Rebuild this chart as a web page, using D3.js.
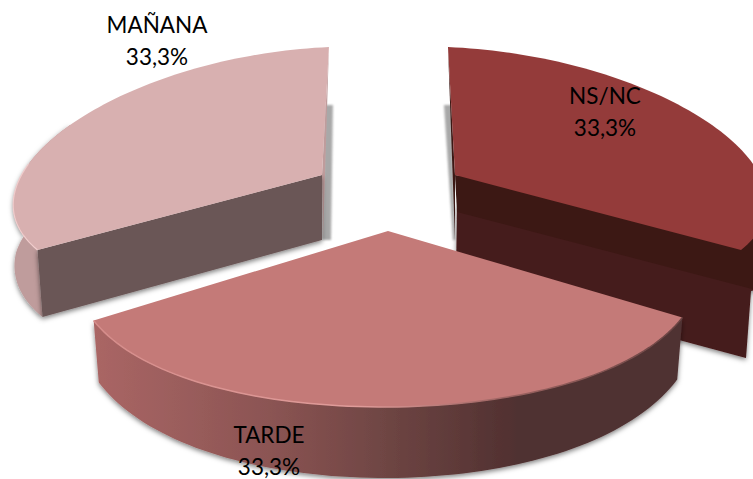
<!DOCTYPE html>
<html>
<head>
<meta charset="utf-8">
<script src="https://cdn.jsdelivr.net/npm/d3@7"></script>
<style>
  html, body { margin: 0; padding: 0; background: #fff; overflow: hidden; }
  svg { display: block; }
  text { font-family: Lato, "Open Sans", sans-serif; font-size: 22.5px; fill: #000; text-anchor: middle; }
</style>
</head>
<body>
<div class="plot"></div>
<script>
// DATA
var categories = ["NS/NC", "TARDE", "MAÑANA"];
var values = [33.3, 33.3, 33.3];

// LAYOUT
var w = 753;
var h = 479;
var faceColors = ["#943b3a", "#c47a78", "#d8b0b0"];

// per slice projection of the flat pie onto the page
var views = [
  { ax: 455, ay: 175, A: 310, B: 7.7, C: 12.7, D: 128, p: 0.0956 },
  { ax: 388, ay: 231, A: 310, B: 0, C: -1.7, D: 176, p: 0.176 },
  { ax: 322, ay: 175, A: 306, B: -7.7, C: -12.7, D: 128, p: 0.11 }
];
var drops = [
  { base: 65, front: 4 },
  { base: 53, front: 18 },
  { base: 65, front: 4 }
];
var labelSpots = [
  { x: 605, y: 104 },
  { x: 269, y: 442.5 },
  { x: 157, y: 33 }
];

function project(view, a) {
  var u = Math.sin(a), v = -Math.cos(a);
  return [
    view.ax + (view.A * u + view.B * v) / (1 - view.p * v),
    view.ay + view.C * u + view.D * v
  ];
}

function dropped(view, drop, a) {
  var pt = project(view, a), v = Math.max(0, -Math.cos(a));
  return [
    view.ax + (pt[0] - view.ax) * (1 - 0.035 * v),
    pt[1] + drop.base + drop.front * v
  ];
}

function anglesOf(d) {
  return d3.range(0, 81).map(function (i) {
    return d.startAngle + (d.endAngle - d.startAngle) * i / 80;
  });
}

var pie = d3.pie().sort(null);
var slices = pie(values);

var svg = d3.select(".plot").append("svg").attr("width", w).attr("height", h);
var defs = svg.append("defs");

var shadow = defs.append("filter").attr("id", "shadow")
  .attr("x", "-10%").attr("y", "-10%").attr("width", "120%").attr("height", "125%");
shadow.append("feDropShadow").attr("dx", 0).attr("dy", 2).attr("stdDeviation", 2.5)
  .attr("flood-color", "#000").attr("flood-opacity", 0.5);

var soft = defs.append("filter").attr("id", "soft")
  .attr("x", "-100%").attr("y", "-10%").attr("width", "300%").attr("height", "120%");
soft.append("feGaussianBlur").attr("stdDeviation", 1);

var tardeRim = defs.append("linearGradient").attr("id", "tardeRim")
  .attr("gradientUnits", "userSpaceOnUse").attr("x1", 93).attr("x2", 682).attr("y1", 0).attr("y2", 0);
[[0, "#aa6665"], [0.3, "#8b5453"], [0.5, "#6e4543"], [0.72, "#503030"], [1, "#503132"]].forEach(function (s) {
  tardeRim.append("stop").attr("offset", s[0]).attr("stop-color", s[1]);
});
var tardeEdge = defs.append("linearGradient").attr("id", "tardeEdge")
  .attr("gradientUnits", "userSpaceOnUse").attr("x1", 93).attr("x2", 682).attr("y1", 0).attr("y2", 0);
[[0, "#d58c8a"], [0.45, "#e09c9a"], [0.7, "#9c6361"], [1, "#6b4443"]].forEach(function (s) {
  tardeEdge.append("stop").attr("offset", s[0]).attr("stop-color", s[1]);
});

var line = d3.line();
var polygon = function (pts) { return line(pts) + "Z"; };
function shift(pt, dx, dy) { return [pt[0] + dx, pt[1] + dy]; }

function drawFace(g, d, view, i) {
  g.append("path")
    .attr("d", polygon([[view.ax, view.ay]].concat(anglesOf(d).map(function (a) { return project(view, a); }))))
    .attr("fill", faceColors[i]);
}

// rim between the top edge and the dropped edge
function rimArea(angles, view, drop) {
  return d3.area()
    .x0(function (a) { return project(view, a)[0]; })
    .y0(function (a) { return project(view, a)[1]; })
    .x1(function (a) { return dropped(view, drop, a)[0]; })
    .y1(function (a) { return dropped(view, drop, a)[1]; })(angles);
}

function drawNs(d, view) {
  var g = svg.append("g");
  var apex = [view.ax, view.ay];
  var start = project(view, d.startAngle);
  var end = project(view, d.endAngle);
  g.append("path")
    .attr("d", polygon([shift(start, -4, 58), shift(start, 4, 58), shift(apex, 0, 65), shift(apex, -2, 65)]))
    .attr("fill", "#a8a8a8").attr("filter", "url(#soft)");
  g.append("path")
    .attr("d", polygon([start, apex, shift(apex, 0, 65)]))
    .attr("fill", "#3c1814");
  g.append("path")
    .attr("d", polygon([shift(apex, 2, 30), shift(end, 15, 33), shift(end, 15, 40), shift(end, 10, 41), shift(end, 5, 108), shift(apex, 1, 105)]))
    .attr("fill", "#451a1a").attr("filter", "url(#shadow)");
  g.append("path")
    .attr("d", polygon([apex, shift(end, 30, -30), shift(end, 15, 40), shift(apex, 2, 37)]))
    .attr("fill", "#3c1814");
  drawFace(g, d, view, 0);
}

function drawTarde(d, view, drop) {
  var g = svg.append("g");
  g.append("path").attr("d", rimArea(anglesOf(d), view, drop)).attr("fill", "url(#tardeRim)").attr("filter", "url(#shadow)");
  drawFace(g, d, view, 1);
  g.append("path")
    .attr("d", line(anglesOf(d).map(function (a) { return project(view, a); })))
    .attr("fill", "none").attr("stroke", "url(#tardeEdge)").attr("stroke-width", 1.5);
}

function drawManana(d, view, drop) {
  var g = svg.append("g");
  var apex = [view.ax, view.ay];
  var start = project(view, d.startAngle);
  var end = project(view, d.endAngle);
  g.append("path")
    .attr("d", polygon([shift(end, -4, 58), shift(end, 4, 58), shift(apex, 9, 65), shift(apex, 0, 65)]))
    .attr("fill", "#a8a8a8").attr("filter", "url(#soft)");
  g.append("path")
    .attr("d", rimArea(anglesOf(d).slice(0, 40), view, drop))
    .attr("fill", "#bf9c9c").attr("filter", "url(#shadow)");
  g.append("path")
    .attr("d", polygon([end, apex, shift(apex, 1, 65)]))
    .attr("fill", "#bf9c9c");
  g.append("path")
    .attr("d", polygon([start, apex, shift(apex, 0, 65), dropped(view, drop, d.startAngle)]))
    .attr("fill", "#6b5656").attr("filter", "url(#shadow)");
  drawFace(g, d, view, 2);
  g.append("path")
    .attr("d", line(anglesOf(d).slice(0, 28).map(function (a) { return project(view, a); })))
    .attr("fill", "none").attr("stroke", "#f0cccc").attr("stroke-width", 1.2);
}

drawNs(slices[0], views[0]);
drawManana(slices[2], views[2], drops[2]);
drawTarde(slices[1], views[1], drops[1]);

// LABELS
categories.forEach(function (c, i) {
  var t = svg.append("text").attr("x", labelSpots[i].x).attr("y", labelSpots[i].y);
  t.append("tspan").attr("x", labelSpots[i].x).text(c);
  t.append("tspan").attr("x", labelSpots[i].x).attr("dy", 32).text(String(values[i]).replace(".", ",") + "%");
});
</script>
</body>
</html>
